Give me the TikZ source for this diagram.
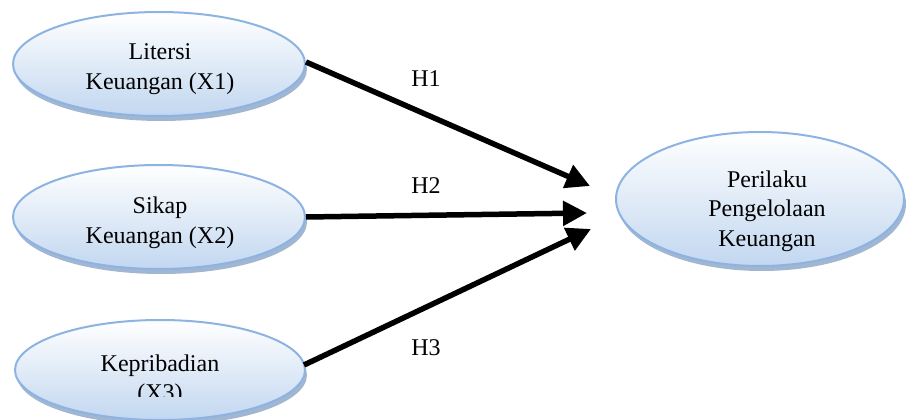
\documentclass[tikz,border=0pt]{standalone}
\usepackage{fontspec}
\setmainfont{Liberation Serif}
\newfontfamily\tnrfont{Liberation Serif}
\usetikzlibrary{shadows,arrows.meta,shapes.geometric}
\definecolor{elborder}{HTML}{8DB3E2}
\definecolor{elfill}{HTML}{C2D7F0}
\definecolor{elshadow}{HTML}{6F8FB8}
\tikzset{
  var/.style={ellipse, draw=elborder, line width=2pt, top color=white, bottom color=elfill,
    drop shadow={shadow xshift=2pt, shadow yshift=-5pt, fill=elshadow, opacity=0.65},
    inner sep=0pt},
  txt/.style={align=center, font=\tnrfont\fontsize{24}{29.5}\selectfont},
  hyp/.style={line width=5.5pt, -{Triangle[length=24pt,width=24pt]}},
  lab/.style={font=\tnrfont\fontsize{24}{29.5}\selectfont}
}
\begin{document}
\begin{tikzpicture}[x=1pt,y=-1pt]
\useasboundingbox (0,0) rectangle (906,420);
\node[var, minimum width=292pt, minimum height=104pt] (x1) at (159,64) {};
\node[var, minimum width=292pt, minimum height=104pt] (x2) at (159,217) {};
\node[var, minimum width=290pt, minimum height=100pt] (x3) at (160,370) {};
\node[var, minimum width=288pt, minimum height=134pt] (y) at (760,199) {};
\node[txt] (t1) at (160,69) {Litersi\\Keuangan (X1)};
\node[txt] (t2) at (160,223) {Sikap\\Keuangan (X2)};
\begin{scope}
\clip (0,340) rectangle (906,396);
\node[txt] (t3) at (160,380) {Kepribadian\\(X3)};
\end{scope}
\node[txt] (ty) at (767,211) {Perilaku\\Pengelolaan\\Keuangan};
\coordinate (a1) at (590,186);
\coordinate (a2) at (587,213);
\coordinate (a3) at (591,229);
\draw[hyp] (x1.east) ++(0,-2) -- (a1);
\draw[hyp] (x2.east) -- (a2);
\draw[hyp] (x3.east) ++(-2,-5) -- (a3);
\node[lab] (h1) at (426,79) {H1};
\node[lab] (h2) at (426,186) {H2};
\node[lab] (h3) at (426,348) {H3};
\end{tikzpicture}
\end{document}
